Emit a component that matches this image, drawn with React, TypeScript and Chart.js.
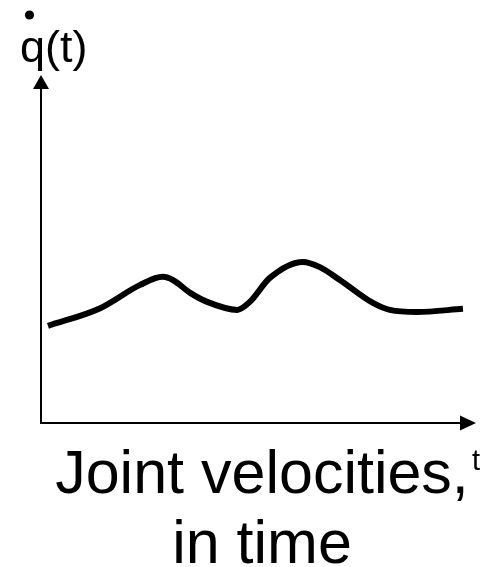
import React, { useEffect, useRef } from "react";
import { Chart, registerables } from "chart.js";

Chart.register(...registerables);

// Time samples and joint velocity readings along the curve
const timeValues = [0.16, 1.36, 2.28, 2.8, 3.03, 3.43, 3.82, 4.51, 4.8, 5.26, 6.02, 6.41, 6.87, 7.63, 8.02, 8.64, 9.7];
const velocityValues = [2.79, 3.3, 3.97, 4.2, 4.11, 3.74, 3.48, 3.25, 3.48, 4.17, 4.63, 4.48, 4.11, 3.45, 3.25, 3.19, 3.28];

const axisRange = { min: 0, max: 10 };
const yAxisLabel = "q(t)";
const xAxisLabel = "t";
const titleLines = ["Joint velocities,", "in time"];

const FONT = '"Liberation Sans", Arial, sans-serif';

// Draws arrowed axes, the axis labels and the caption
const sketchAxes = {
  id: "sketchAxes",
  afterDraw(chart: any) {
    const { ctx } = chart;
    const xs = chart.scales.x;
    const ys = chart.scales.y;
    const x0 = xs.getPixelForValue(axisRange.min);
    const x1 = xs.getPixelForValue(axisRange.max);
    const y0 = ys.getPixelForValue(axisRange.min);
    const y1 = ys.getPixelForValue(axisRange.max);

    ctx.save();
    ctx.strokeStyle = "#000";
    ctx.fillStyle = "#000";
    ctx.lineWidth = 2;
    ctx.lineCap = "butt";

    // y axis with arrowhead
    ctx.beginPath();
    ctx.moveTo(x0, y0 + 1);
    ctx.lineTo(x0, y1 + 12);
    ctx.stroke();
    ctx.beginPath();
    ctx.moveTo(x0, y1);
    ctx.lineTo(x0 - 8, y1 + 14);
    ctx.lineTo(x0 + 8, y1 + 14);
    ctx.closePath();
    ctx.fill();

    // x axis with arrowhead
    ctx.beginPath();
    ctx.moveTo(x0 - 1, y0);
    ctx.lineTo(x1 - 12, y0);
    ctx.stroke();
    ctx.beginPath();
    ctx.moveTo(x1, y0);
    ctx.lineTo(x1 - 16, y0 - 7.5);
    ctx.lineTo(x1 - 16, y0 + 7.5);
    ctx.closePath();
    ctx.fill();

    // y label with derivative dot
    ctx.textBaseline = "alphabetic";
    ctx.textAlign = "left";
    ctx.font = `45px ${FONT}`;
    ctx.fillText(yAxisLabel, 20, 62);
    ctx.beginPath();
    ctx.arc(29.5, 15, 4.6, 0, Math.PI * 2);
    ctx.fill();

    // x label
    ctx.font = `29px ${FONT}`;
    ctx.fillText(xAxisLabel, 472, 470);

    // caption
    ctx.textAlign = "center";
    ctx.font = `61px ${FONT}`;
    ctx.fillText(titleLines[0], 262, 493);
    ctx.fillText(titleLines[1], 262, 563);
    ctx.restore();
  },
};

export default function App() {
  const ref = useRef<HTMLCanvasElement>(null);

  useEffect(() => {
    if (!ref.current) return;
    const chart = new Chart(ref.current, {
      type: "line",
      data: {
        datasets: [
          {
            data: timeValues.map((t, i) => ({ x: t, y: velocityValues[i] })),
            borderColor: "#000",
            borderWidth: 6,
            pointRadius: 0,
            cubicInterpolationMode: "monotone",
            fill: false,
          },
        ],
      },
      options: {
        responsive: false,
        animation: false,
        events: [],
        layout: { padding: { left: 41, right: 17, top: 75, bottom: 144 } },
        plugins: { legend: { display: false }, tooltip: { enabled: false }, title: { display: false } },
        scales: {
          x: { type: "linear", min: axisRange.min, max: axisRange.max, display: false },
          y: { type: "linear", min: axisRange.min, max: axisRange.max, display: false },
        },
      },
      plugins: [sketchAxes],
    });
    return () => chart.destroy();
  }, []);

  return (
    <div style={{ position: "fixed", left: 0, top: 0, width: 493, height: 567, background: "#fff" }}>
      <canvas ref={ref} width={493} height={567} />
    </div>
  );
}
